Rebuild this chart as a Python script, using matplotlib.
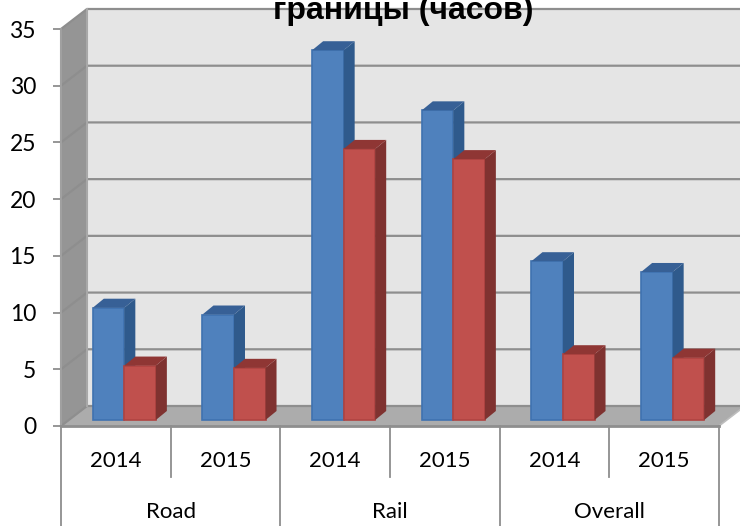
import numpy as np
import matplotlib
matplotlib.use('Agg')
import matplotlib.pyplot as plt
from matplotlib.patches import Polygon

years = ['2014', '2015', '2014', '2015', '2014', '2015']
groups = ['Road', 'Rail', 'Overall']
blue_vals = [9.9, 9.3, 32.6, 27.3, 14.0, 13.05]
red_vals = [4.8, 4.6, 23.9, 23.0, 5.8, 5.5]
y_ticks = [0, 5, 10, 15, 20, 25, 30, 35]

plt.rcParams['font.family'] = ['Lato', 'DejaVu Sans']

W, H = 740, 526
fig = plt.figure(figsize=(W / 100, H / 100), dpi=100)
# axes box is the front plane of the 3d chart, in pixels
left, right, bottom, top = 61, 719, 426, 29
ax = fig.add_axes([left / W, 1 - bottom / H, (right - left) / W, (bottom - top) / H])
ax.set_xlim(0, 6)
ax.set_ylim(0, 35)
ax.patch.set_visible(False)
for s in ax.spines.values():
    s.set_visible(False)

# pixels to data units
px = 6 / (right - left)
py = 35 / (bottom - top)
wall_dx, wall_dy = 26 * px, 20 * py
bar_dx, bar_dy = 11 * px, 9 * py
base = 6 * py  # bars stand a little behind the front edge

grid = '#8e8e8e'


def poly(pts, fc, ec='none', lw=0, z=1):
    ax.add_patch(Polygon(pts, closed=True, fc=fc, ec=ec, lw=lw, zorder=z, clip_on=False))


# back wall, side wall, floor
poly([(wall_dx, wall_dy), (6.3, wall_dy), (6.3, 35 + wall_dy), (wall_dx, 35 + wall_dy)], '#e5e5e5')
poly([(0, 0), (wall_dx, wall_dy), (wall_dx, 35 + wall_dy), (0, 35)], '#959595')
poly([(0, 0), (6, 0), (6 + wall_dx, wall_dy), (wall_dx, wall_dy)], '#acacac')

for v in y_ticks:
    ax.plot([0, wall_dx, 6.3], [v, v + wall_dy, v + wall_dy], color=grid, lw=1.6, zorder=2, clip_on=False)
ax.plot([wall_dx, wall_dx], [wall_dy, 35 + wall_dy], color='#a8a8a8', lw=1.5, zorder=2, clip_on=False)
ax.plot([6, 6 + wall_dx], [0, wall_dy], color='#bdbdbd', lw=1.2, zorder=2, clip_on=False)


def bar3d(x, w, val, front, side, topc, edge):
    y0, y1 = base, base + val
    ax.bar(x, val, w, bottom=base, align='edge', color=front, edgecolor=edge, lw=1.2, zorder=3)
    poly([(x + w, y0), (x + w + bar_dx, y0 + bar_dy), (x + w + bar_dx, y1 + bar_dy), (x + w, y1)], side, z=3)
    poly([(x, y1), (x + bar_dx, y1 + bar_dy), (x + w + bar_dx, y1 + bar_dy), (x + w, y1)], topc, z=3)


bw = 0.2875
for i in range(6):
    x = i + 0.29
    bar3d(x, bw, blue_vals[i], '#4f81bd', '#2f5a8c', '#376096', '#3f72b0')
    bar3d(x + bw, bw, red_vals[i], '#c0504d', '#7f3230', '#8f3634', '#b04341')

ax.set_yticks(y_ticks)
ax.set_xticks([])
ax.tick_params(axis='y', length=6, width=1.3, color=grid, labelsize=16.5, pad=12)
ax.plot([0, 0], [0, 35], color='#a0a0a0', lw=1.5, zorder=2, clip_on=False)
ax.plot([0, 6], [0, 0], color=grid, lw=2, zorder=4, clip_on=False)

# two-level category axis, separators in axes-relative pixels
trans = ax.get_xaxis_transform()
short = -51 / (bottom - top)
long = -100 / (bottom - top)
for i in range(7):
    end = long if i % 2 == 0 else short
    ax.plot([i, i], [0, end], transform=trans, color='#8e8e8e', lw=1.3, clip_on=False)
for i, lab in enumerate(years):
    ax.text(i + 0.5, -35 / (bottom - top), lab, transform=trans, ha='center', va='center', fontsize=16)
for i, lab in enumerate(groups):
    ax.text(2 * i + 1, -86 / (bottom - top), lab, transform=trans, ha='center', va='center', fontsize=16)

fig.text(403 / W, 1 - 19 / H, 'границы (часов)', ha='center', va='baseline', fontsize=23,
         fontweight='bold', family=['Liberation Sans', 'DejaVu Sans'])

fig.savefig('out.png', dpi=100)
